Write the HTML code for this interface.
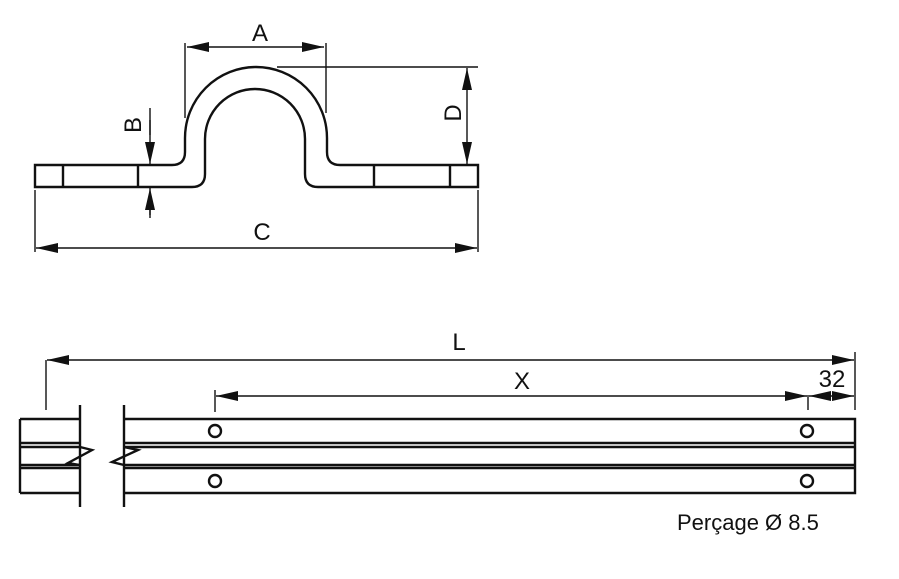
<!DOCTYPE html>
<html><head><style>body{margin:0;background:#fff}svg{display:block}text{font-family:"Liberation Sans",sans-serif;fill:#111}</style></head>
<body>
<svg width="899" height="579" viewBox="0 0 899 579">
<defs><marker id="a" viewBox="0 0 22 10" refX="22" refY="5" markerWidth="22" markerHeight="10" orient="auto-start-reverse" markerUnits="userSpaceOnUse"><path d="M0,0L22,5L0,10z" fill="#111"/></marker></defs>
<g stroke="#111" fill="none" stroke-width="2.4">
<path d="M35,165H172Q185,165 185,152V138A71,71 0 0 1 327,138V152Q327,165 340,165H478V187H318Q305,187 305,174V139A50,50 0 0 0 205,139V174Q205,187 192,187H35Z"/>
<path d="M63,165V187M138,165V187M374,165V187M450,165V187"/>
</g>
<g stroke="#111" fill="none" stroke-width="1.4">
<path d="M185,43V118M326,43V113M277,67H478M35,190V252M478,190V252M150,108V135M150,210V218"/>
<path d="M187,47H324" marker-start="url(#a)" marker-end="url(#a)"/>
<path d="M467,68V164" marker-start="url(#a)" marker-end="url(#a)"/>
<path d="M150,120V164" marker-end="url(#a)"/>
<path d="M150,215V188" marker-end="url(#a)"/>
<path d="M36,248H477" marker-start="url(#a)" marker-end="url(#a)"/>
<path d="M46,360V410M855,352V410M215,390V412M808,395V410"/>
<path d="M47,360H854" marker-start="url(#a)" marker-end="url(#a)"/>
<path d="M216,396H807" marker-start="url(#a)" marker-end="url(#a)"/>
<path d="M809,396H854" marker-start="url(#a)" marker-end="url(#a)"/>
</g>
<g stroke="#111" fill="none" stroke-width="2.4">
<path d="M80,405V507M124,405V507"/>
<path d="M20,419H80M20,493H80M20,419V493M20,443H80M20,447H80M20,465H80M20,468H80"/>
<path d="M80,447L92,450L68,463L80,465"/>
<path d="M124,419H855V493H124M124,443H855M124,447H855M124,465H855M124,468H855"/>
<path d="M124,447L138,450L112,462L124,465"/>
<circle cx="215" cy="431" r="6"/><circle cx="215" cy="481" r="6"/>
<circle cx="807" cy="431" r="6"/><circle cx="807" cy="481" r="6"/>
</g>
<text x="260" y="41" font-size="24" text-anchor="middle">A</text>
<text x="262" y="240" font-size="24" text-anchor="middle">C</text>
<text font-size="24" text-anchor="middle" transform="translate(141,125) rotate(-90)">B</text>
<text font-size="24" text-anchor="middle" transform="translate(461,113) rotate(-90)">D</text>
<text x="459" y="350" font-size="24" text-anchor="middle">L</text>
<text x="522" y="389" font-size="24" text-anchor="middle">X</text>
<text x="832" y="387" font-size="24" text-anchor="middle">32</text>
<text x="677" y="530" font-size="22">Perçage Ø 8.5</text>
</svg>
</body></html>
